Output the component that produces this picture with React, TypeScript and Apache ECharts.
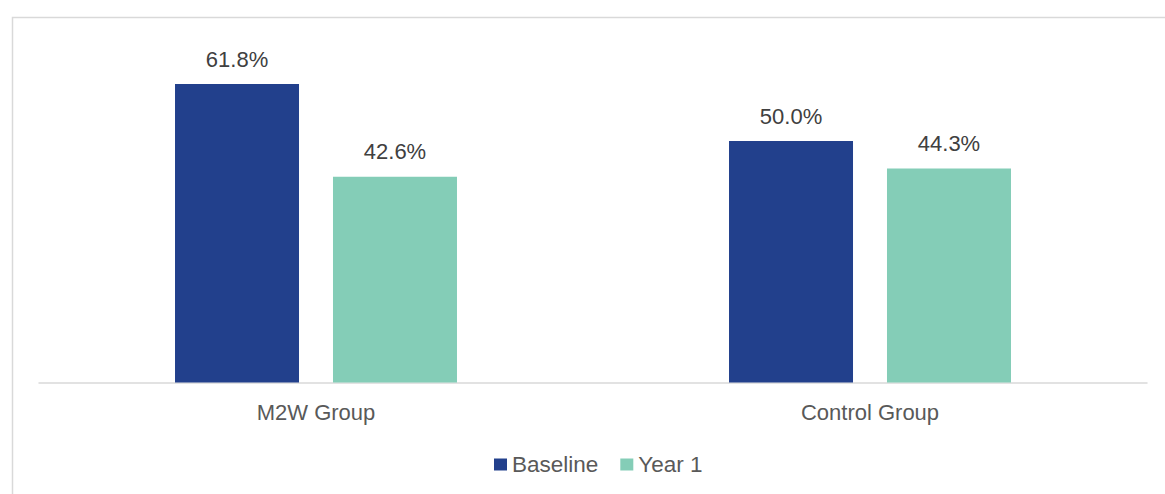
import React, { useEffect, useRef } from "react";
import * as echarts from "echarts";

const categories = ["M2W Group", "Control Group"];
const baselineValues = [61.8, 50.0];
const year1Values = [42.6, 44.3];
const seriesNames = ["Baseline", "Year 1"];

const FONT = "Liberation Sans, Arial, sans-serif";

export default function App() {
  const ref = useRef<HTMLDivElement>(null);
  useEffect(() => {
    const chart = echarts.init(ref.current!, undefined, { renderer: "svg" });
    const label = {
      show: true,
      position: "top",
      distance: 14,
      color: "#404040",
      fontSize: 22,
      fontFamily: FONT,
      formatter: (p: any) => p.value.toFixed(1) + "%",
    };
    chart.setOption({
      animation: false,
      backgroundColor: "#ffffff",
      graphic: [
        {
          type: "rect",
          left: 10,
          top: 15,
          shape: { width: 1300, height: 600 },
          style: { fill: "none", stroke: "#d9d9d9", lineWidth: 1.5 },
          silent: true,
        },
      ],
      grid: { left: 39, right: 18, top: 44.5, bottom: 111.5 },
      legend: {
        data: seriesNames,
        left: 489,
        top: 448,
        itemWidth: 13,
        itemHeight: 12,
        itemGap: 22,
        textStyle: { color: "#595959", fontSize: 22.5, fontFamily: FONT },
        icon: "rect",
      },
      xAxis: {
        type: "category",
        data: categories,
        axisLine: { lineStyle: { color: "#d9d9d9", width: 1.5 } },
        axisTick: { show: false },
        axisLabel: { color: "#595959", fontSize: 22, fontFamily: FONT, margin: 19 },
      },
      yAxis: {
        type: "value",
        min: 0,
        max: 70,
        show: false,
        splitLine: { show: false },
      },
      series: [
        {
          name: seriesNames[0],
          type: "bar",
          data: baselineValues,
          barWidth: 124,
          barGap: "27.4%",
          itemStyle: { color: "#22408C" },
          label,
        },
        {
          name: seriesNames[1],
          type: "bar",
          data: year1Values,
          barWidth: 124,
          itemStyle: { color: "#84CDB7" },
          label,
        },
      ],
    });
    return () => chart.dispose();
  }, []);
  return (
    <div
      ref={ref}
      style={{ position: "fixed", left: 0, top: 0, width: 1165, height: 494 }}
    />
  );
}
